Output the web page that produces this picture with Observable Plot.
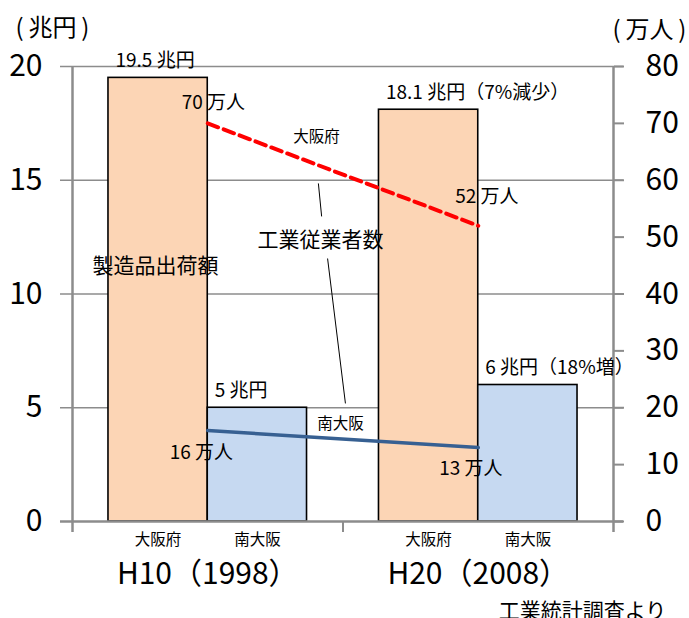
<!DOCTYPE html>
<html>
<head>
<meta charset="utf-8">
<script src="https://cdn.jsdelivr.net/npm/d3@7"></script>
<script src="https://cdn.jsdelivr.net/npm/@observablehq/plot@0.6"></script>
<style>
  html, body { margin: 0; padding: 0; background: #fff; }
  #chart svg { display: block; }
</style>
</head>
<body>
<div id="chart"></div>
<script>
// 製造品出荷額（兆円）と工業従業者数（万人）: 大阪府と南大阪, H10 と H20
const years = ["H10（1998）", "H20（2008）"];
const regions = ["大阪府", "南大阪"];
const shipmentOsakaFu = [19.5, 18.1];   // 兆円
const shipmentMinami = [5, 6];          // 兆円
const changeOsakaFu = ["", "（7%減少）"];
const changeMinami = ["", "（18%増）"];
const workersOsakaFu = [70, 52];        // 万人
const workersMinami = [16, 13];         // 万人
const shipmentTicks = [0, 5, 10, 15, 20];
const workerTicks = [0, 10, 20, 30, 40, 50, 60, 70, 80];

const shipmentMax = 20, workerMax = 80;
const toLeft = w => w * shipmentMax / workerMax;   // 万人 -> left-axis units

const rows = [];
years.forEach((year, i) => {
  rows.push({year, i, j: 0, region: regions[0], shipment: shipmentOsakaFu[i], change: changeOsakaFu[i], workers: workersOsakaFu[i]});
  rows.push({year, i, j: 1, region: regions[1], shipment: shipmentMinami[i], change: changeMinami[i], workers: workersMinami[i]});
});

// each year occupies one unit on x; the two bars meet at the middle of it
const barSpan = 0.367;
const barX1 = d => d.i + 0.5 - barSpan + d.j * barSpan;
const barX2 = d => barX1(d) + barSpan;
const mid = d => d.i + 0.5;

const gray = "#8c8c8c";
const font = "'Noto Sans CJK JP', 'Noto Sans', sans-serif";

// offsets of the 万人 labels around each line point (px)
const workerLabelOffsets = {
  "大阪府": [[-26, -20], [-23, -29]],
  "南大阪": [[-38, 22], [-39, 21]]
};

const workerLabels = rows.map(d => Plot.text([d], {
  x: mid, y: d => toLeft(d.workers),
  text: d => `${d.workers} 万人`,
  textAnchor: "start", lineAnchor: "middle",
  dx: workerLabelOffsets[d.region][d.i][0],
  dy: workerLabelOffsets[d.region][d.i][1],
  fontSize: 19, fill: "black"
}));

// free-standing annotations (data units)
const notes = [
  {x: 0.307, y: 11.2, text: "製造品出荷額", size: 21},
  {x: 0.917, y: 12.35, text: "工業従業者数", size: 21},
  {x: 0.902, y: 16.9, text: "大阪府", size: 15.5},
  {x: 0.991, y: 4.3, text: "南大阪", size: 15.5}
];
const leaders = [
  {x1: 0.909, y1: 14.86, x2: 0.921, y2: 13.41},
  {x1: 0.943, y1: 11.56, x2: 1.009, y2: 5.19}
];

const chart = Plot.plot({
  width: 689,
  height: 618,
  marginTop: 66,
  marginBottom: 97,
  marginLeft: 72,
  marginRight: 76,
  x: {domain: [0, 2], axis: null},
  y: {domain: [0, shipmentMax], axis: null},
  color: {domain: regions, range: ["#FCD5B5", "#C6D9F1"]},
  style: {fontFamily: font, background: "#fff", color: "black"},
  marks: [
    // gridlines (extend into the left ticks and past the right axis)
    Plot.ruleY(shipmentTicks.filter(v => v > 0), {stroke: gray, strokeWidth: 1.6, insetLeft: -12, insetRight: -10}),
    // bars
    Plot.rectY(rows, {x1: barX1, x2: barX2, y: "shipment", fill: "region", stroke: "black", strokeWidth: 1.6}),
    // baseline and vertical axes
    Plot.ruleY([0], {stroke: gray, strokeWidth: 2.5, insetLeft: -12, insetRight: -10}),
    Plot.ruleX([0, 2], {y1: shipmentMax, y2: 0, stroke: gray, strokeWidth: 2.5, insetBottom: -11}),
    Plot.ruleX([1], {y1: 0, y2: 0, stroke: gray, strokeWidth: 2, insetBottom: -11}),
    // left axis labels
    Plot.axisY({anchor: "left", ticks: shipmentTicks, tickSize: 0, tickPadding: 30, fontSize: 30, label: null, fill: "black"}),
    // right axis (万人)
    Plot.axisY({
      anchor: "right", ticks: workerTicks.map(toLeft), tickFormat: v => Math.round(v * workerMax / shipmentMax),
      tickSize: 10, tickPadding: 22, fontSize: 30, label: null, stroke: gray, strokeWidth: 2, fill: "black"
    }),
    // employee lines
    Plot.line(rows.filter(d => d.region === "大阪府"), {x: mid, y: d => toLeft(d.workers), stroke: "#FF0000", strokeWidth: 4, strokeDasharray: "11,6"}),
    Plot.line(rows.filter(d => d.region === "南大阪"), {x: mid, y: d => toLeft(d.workers), stroke: "#376092", strokeWidth: 3.5}),
    // bar value labels
    Plot.text(rows, {x: barX1, y: "shipment", text: d => `${d.shipment} 兆円${d.change}`, textAnchor: "start", lineAnchor: "bottom", dx: 7, dy: -11, fontSize: 19, fill: "black"}),
    ...workerLabels,
    // annotations and leaders
    Plot.link(leaders, {x1: "x1", y1: "y1", x2: "x2", y2: "y2", stroke: "black", strokeWidth: 1}),
    ...notes.map(n => Plot.text([n], {x: "x", y: "y", text: "text", fontSize: n.size, fill: "black"})),
    // category labels
    Plot.text(rows, {x: d => (barX1(d) + barX2(d)) / 2, y: () => 0, text: "region", dy: 19, fontSize: 15.5, fill: "black"}),
    Plot.text(years, {x: (d, i) => i + 0.5, y: () => 0, text: d => d, dy: 53, fontSize: 30, fill: "black"}),
    // units and source
    Plot.text(["(\u2009兆円\u2009)"], {frameAnchor: "top-left", lineAnchor: "middle", textAnchor: "middle", dx: -20, dy: -38, fontSize: 24, fill: "black"}),
    Plot.text(["(\u2009万人\u2009)"], {frameAnchor: "top-right", lineAnchor: "middle", textAnchor: "middle", dx: 36, dy: -36, fontSize: 24, fill: "black"}),
    Plot.text(["工業統計調査より"], {frameAnchor: "bottom-right", lineAnchor: "middle", textAnchor: "middle", dx: -31, dy: 90, fontSize: 21, fill: "black"})
  ]
});
document.getElementById("chart").append(chart);
</script>
</body>
</html>
